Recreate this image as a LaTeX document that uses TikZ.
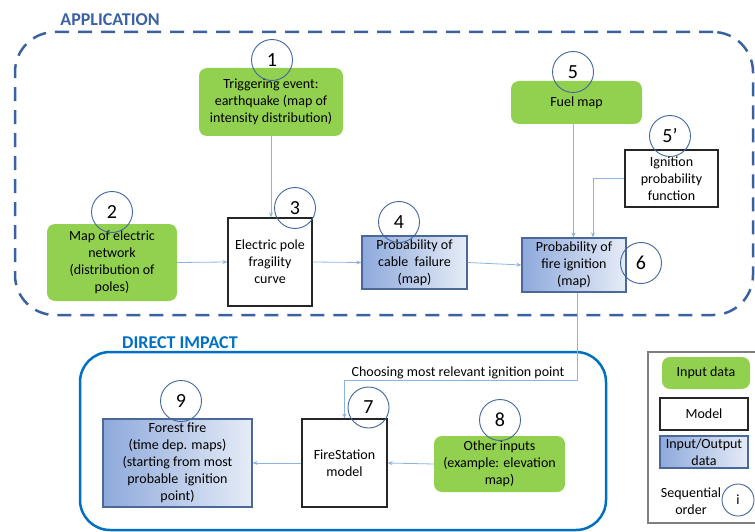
\documentclass[tikz,border=0pt]{standalone}
\usepackage{fontspec}
\setmainfont{Carlito}
\usetikzlibrary{arrows.meta,calc}
\definecolor{grn}{HTML}{92D050}
\definecolor{appblue}{HTML}{3A62A0}
\definecolor{dirblue}{HTML}{0070C0}
\definecolor{arrblue}{HTML}{8DB3E2}
\definecolor{circblue}{HTML}{41669E}
\definecolor{gradL}{HTML}{8EA9DB}
\definecolor{gradR}{HTML}{E6ECF7}
\definecolor{ioborder}{HTML}{4A6898}
\definecolor{leggray}{HTML}{7F7F7F}
\begin{document}
\begin{tikzpicture}[x=1pt,y=-1pt,
  txt/.style={font=\fontsize{14}{17}\selectfont, align=center, inner sep=0pt},
  inbox/.style={txt, fill=grn, rounded corners=8pt},
  modelbox/.style={txt, fill=white, draw=black!85, line width=1.2pt},
  iobox/.style={txt, left color=gradL, right color=gradR, draw=ioborder, line width=1.2pt},
  num/.style={circle, draw=circblue, line width=0.9pt, minimum size=41pt, inner sep=0pt, font=\fontsize{20}{20}\selectfont},
  arr/.style={draw=arrblue, line width=0.8pt, -{Stealth[length=5pt,width=4pt]}},
  title/.style={font=\fontsize{18}{18}\selectfont\bfseries, inner sep=0pt}
]
\useasboundingbox (0,0) rectangle (755,532);

% containers
\node[draw=appblue, line width=2.5pt, dash pattern=on 14pt off 9pt, rounded corners=40pt,
      minimum width=738pt, minimum height=283pt, inner sep=0pt] (app) at (384,173.5) {};
\node[title, text=appblue] (apptitle) at (110,20) {APPLICATION};
\node[draw=dirblue, line width=2.5pt, rounded corners=30pt,
      minimum width=526pt, minimum height=178pt, inner sep=0pt] (direct) at (343,441) {};
\node[title, text=dirblue] (dirtitle) at (180,343) {DIRECT IMPACT};

% application boxes
\node[inbox, minimum width=144pt, minimum height=68pt] (b1) at (271,102) {Triggering event:\\earthquake (map of\\intensity distribution)};
\node[inbox, minimum width=130pt, minimum height=77pt] (b2) at (112,262.5) {Map of electric\\network\\(distribution of\\poles)};
\node[modelbox, minimum width=84pt, minimum height=88pt] (b3) at (270,262) {Electric pole\\fragility\\curve};
\node[iobox, minimum width=105pt, minimum height=53pt] (b4) at (414.5,262.5) {Probability of\\cable\ \ failure\\(map)};
\node[inbox, minimum width=131pt, minimum height=43pt] (b5) at (576.5,102.5) {Fuel map};
\node[modelbox, minimum width=93pt, minimum height=57pt] (b5p) at (671.5,178.5) {Ignition\\probability\\function};
\node[iobox, minimum width=104pt, minimum height=54pt] (b6) at (574,265) {Probability of\\fire ignition\\(map)};

% direct impact boxes
\node[iobox, minimum width=149pt, minimum height=88pt] (b9) at (177.5,463) {Forest fire\\(time dep. maps)\\(starting from most\\probable\ \ ignition\\point)};
\node[modelbox, minimum width=85pt, minimum height=88pt] (b7) at (344.5,463) {FireStation\\model};
\node[inbox, minimum width=131pt, minimum height=56pt] (b8) at (499.5,464) {Other inputs\\(example: elevation\\map)};

% legend
\node[draw=leggray, line width=1.2pt, minimum width=114pt, minimum height=171pt, inner sep=0pt] (leg) at (705,437.5) {};
\node[inbox, minimum width=88pt, minimum height=32pt] (lg1) at (706,373) {Input data};
\node[modelbox, minimum width=88pt, minimum height=32pt] (lg2) at (704,414) {Model};
\node[iobox, minimum width=88pt, minimum height=32pt] (lg3) at (704,452) {Input/Output\\data};
\node[txt] (seq) at (691,501) {Sequential\\order};

% connectors
\draw[arr] (b1.south) -- (b1.south |- b3.north);
\draw[arr] (b2.east) -- (b3.west);
\draw[arr] (b3.east) -- (b4.west);
\draw[arr] (b4.east) -- (b6.west);
\draw[arr] ([xshift=-3pt]b5.south) -- ([xshift=-3pt]b5.south |- b6.north);
\draw[arr] (b5p.west) -| ([xshift=19pt]b6.north);
\coordinate (turn) at (344.5,380);
\draw[arr] ([xshift=3pt]b6.south) |- (turn) -- (b7.north);
\node[txt, anchor=south] (lab) at (458,379) {Choosing most relevant ignition point};
\draw[arr] (b7.west) -- (b9.east);
\draw[arr] (b8.west) -- (b7.east);

% sequence circles
\node[num] (c1) at (272,60) {1};
\node[num] (c2) at (112,212) {2};
\node[num] (c3) at (295,208) {3};
\node[num] (c4) at (399,222) {4};
\node[num] (c5) at (573,72) {5};
\node[num] (c5p) at (670,136) {5’};
\node[num] (c6) at (641,263) {6};
\node[num] (c7) at (368.5,407.5) {7};
\node[num] (c8) at (500,420) {8};
\node[num] (c9) at (181,401) {9};
\node[num, minimum size=32pt, font=\fontsize{14}{14}\selectfont] (ci) at (738,500) {i};
\end{tikzpicture}
\end{document}
